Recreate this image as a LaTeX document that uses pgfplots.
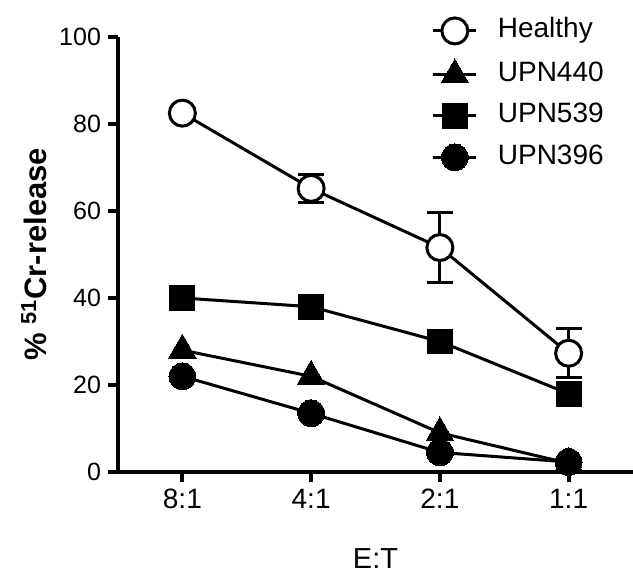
\documentclass[border=0pt]{standalone}
\usepackage{fontspec}
\setmainfont{Liberation Sans}
\usepackage{pgfplots}
\pgfplotsset{compat=1.18}
\usetikzlibrary{calc}

\begin{document}
\begin{tikzpicture}
\begin{axis}[
  name=ax,
  scale only axis,
  width=257.5pt, height=217.5pt,
  xmin=-0.5, xmax=3.5, ymin=0, ymax=100,
  axis x line=bottom, axis y line=left,
  axis line style={-, line width=2pt},
  xtick={0,1,2,3}, xticklabels={8:1,4:1,2:1,1:1},
  ytick={0,20,...,100},
  tick style={line width=2pt, black},
  major tick length=5pt,
  tick align=outside,
  xticklabel style={font=\fontsize{14}{16}\selectfont},
  yticklabel style={font=\fontsize{12.5}{14}\selectfont},
  /pgf/number format/assume math mode=true,
  xlabel={E:T},
  ylabel={\% \textsuperscript{51}Cr-release},
  xlabel style={font=\fontsize{14.5}{16}\selectfont, at={(axis description cs:0.5,-0.198)}, anchor=center},
  ylabel style={font=\bfseries\fontsize{15.5}{17}\selectfont, at={(axis description cs:-0.163,0.5)}, anchor=center},
  legend cell align=left,
  legend style={draw=none, fill=none, at={(rel axis cs:0.597,1.054)}, anchor=north west,
    font=\fontsize{14}{16}\selectfont, row sep=7.5pt,
    nodes={inner sep=0pt, text height=10pt, text depth=3pt},
    /tikz/every odd column/.append style={column sep=10pt}},
  legend image code/.code={\draw[mark repeat=2,mark phase=2,#1] plot coordinates {(0pt,0pt)(10.75pt,0pt)(21.5pt,0pt)};},
]
% Healthy, with SEM bars
\addplot[black, line width=1.5pt, mark=*, mark size=6.5pt, mark options={fill=white, line width=1.5pt},
  error bars/.cd, y dir=both, y explicit,
  error bar style={line width=1.5pt},
  error mark options={rotate=90, mark size=6.5pt, line width=1.5pt}]
  coordinates {
  (0,82.5) +- (0,0)
  (1,65.2) +- (0,3.3)
  (2,51.6) +- (0,8.0)
  (3,27.3) +- (0,5.6)
};
\addlegendentry{Healthy}
\addplot[black, line width=1.5pt, mark=triangle*, mark size=8pt, mark options={line width=0pt}]
  coordinates {(0,28) (1,22) (2,9) (3,2)};
\addlegendentry{UPN440}
\addplot[black, line width=1.5pt, mark=square*, mark size=6.2pt, mark options={line width=0pt}]
  coordinates {(0,40) (1,38) (2,30) (3,18)};
\addlegendentry{UPN539}
\addplot[black, line width=1.5pt, mark=*, mark size=6.7pt, mark options={line width=0pt}]
  coordinates {(0,22) (1,13.5) (2,4.5) (3,2.3)};
\addlegendentry{UPN396}
\end{axis}
\pgfresetboundingbox
\path ($(ax.south west)+(-59pt,-52.5pt)$) rectangle ($(ax.north east)+(0pt,18.5pt)$);
\end{tikzpicture}
\end{document}
